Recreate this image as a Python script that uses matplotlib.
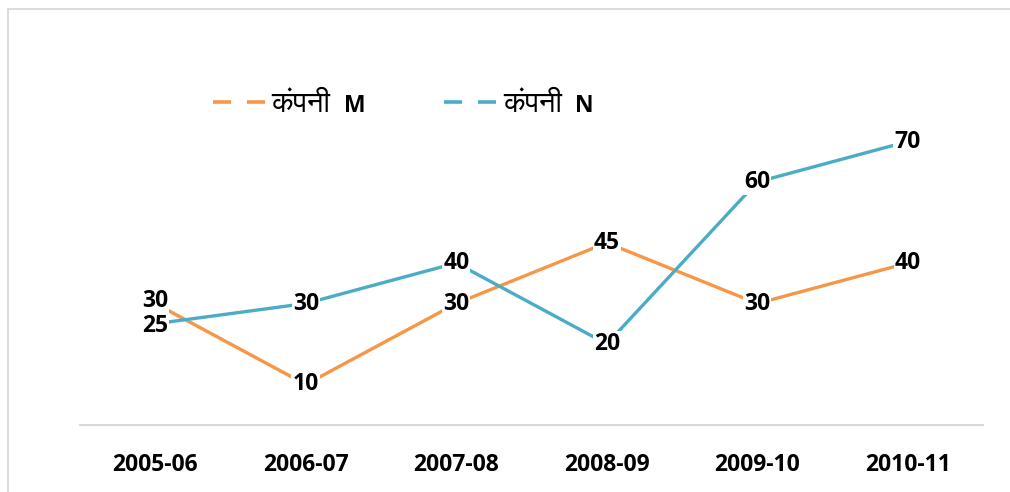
import matplotlib
matplotlib.use("Agg")
import matplotlib.pyplot as plt
from matplotlib import font_manager as fm
from matplotlib.lines import Line2D
from matplotlib.patches import Rectangle

years = ["2005-06", "2006-07", "2007-08", "2008-09", "2009-10", "2010-11"]
company_m = [30, 10, 30, 45, 30, 40]
company_n = [25, 30, 40, 20, 60, 70]
series_names = ["कंपनी", "कंपनी"]
series_tags = ["M", "N"]

ORANGE = "#F79646"
BLUE = "#4BACC6"

# look for any installed font with Devanagari glyphs
deva = [f.name for f in fm.fontManager.ttflist
        if any(k in f.name for k in ("Devanagari", "Mukta", "Lohit", "Gargi", "FreeSans", "Mangal", "Hind"))]
BASE = ["Open Sans", "DejaVu Sans"]
FAM = BASE[:1] + deva[:1] + BASE[1:]
LEG_FAM = deva[:1] + BASE

W, H = 1010, 492
fig = plt.figure(figsize=(W / 100, H / 100), dpi=100)
fig.patches.append(Rectangle((8 / W, -0.1), 1.2, 1 - 9 / H + 0.1, transform=fig.transFigure,
                             fill=False, edgecolor="#D9D9D9", linewidth=1.3))

ax = fig.add_axes([80 / W, (H - 425) / H, (983 - 80) / W, (425 - 101) / H])
x = list(range(len(years)))
ax.plot(x, company_m, color=ORANGE, lw=2.4, solid_capstyle="butt", zorder=2)
ax.plot(x, company_n, color=BLUE, lw=2.4, solid_capstyle="butt", zorder=2)

lab = dict(ha="center", va="center", fontsize=16.5, fontweight="bold", family=FAM,
           bbox=dict(boxstyle="square,pad=0.05", fc="white", ec="none"))
for i, v in enumerate(company_n):
    ax.text(i, v - (0.5 if i == 0 else 0), str(v), zorder=5, **lab)
for i, v in enumerate(company_m):
    ax.text(i, v + (0.5 if i == 0 else 0), str(v), zorder=6, **lab)

ax.set_xlim(-0.5, 5.5)
ax.set_ylim(0, 80)
ax.set_xticks(x)
ax.set_xticklabels(years, fontsize=16.5, fontweight="bold", family=FAM)
ax.tick_params(axis="x", length=0, pad=20)
ax.set_yticks([])
for s in ("top", "right", "left"):
    ax.spines[s].set_visible(False)
ax.spines["bottom"].set_color("#D9D9D9")
ax.spines["bottom"].set_linewidth(1.5)

# legend: dashed keys + Hindi label, bold latin tag appended after each label
handles = [Line2D([], [], color=c, lw=2.6, ls=(0, (5.0, 4.4))) for c in (ORANGE, BLUE)]
leg = fig.legend(handles, series_names, loc="center left", bbox_to_anchor=(198 / W, (H - 104) / H),
                 ncol=2, frameon=False, borderpad=0, handlelength=1.85, handletextpad=0.17,
                 columnspacing=3.9, prop=dict(family=LEG_FAM, size=21))
fig.canvas.draw()
inv = fig.transFigure.inverted()
for t, tag in zip(leg.get_texts(), series_tags):
    bb = t.get_window_extent()
    x0 = inv.transform((bb.x1 + 13, 0))[0]
    fig.text(x0, (H - 112) / H, tag, ha="left", va="baseline", fontsize=16.5,
             fontweight="bold", family=FAM)

fig.savefig("out.png", dpi=100)
